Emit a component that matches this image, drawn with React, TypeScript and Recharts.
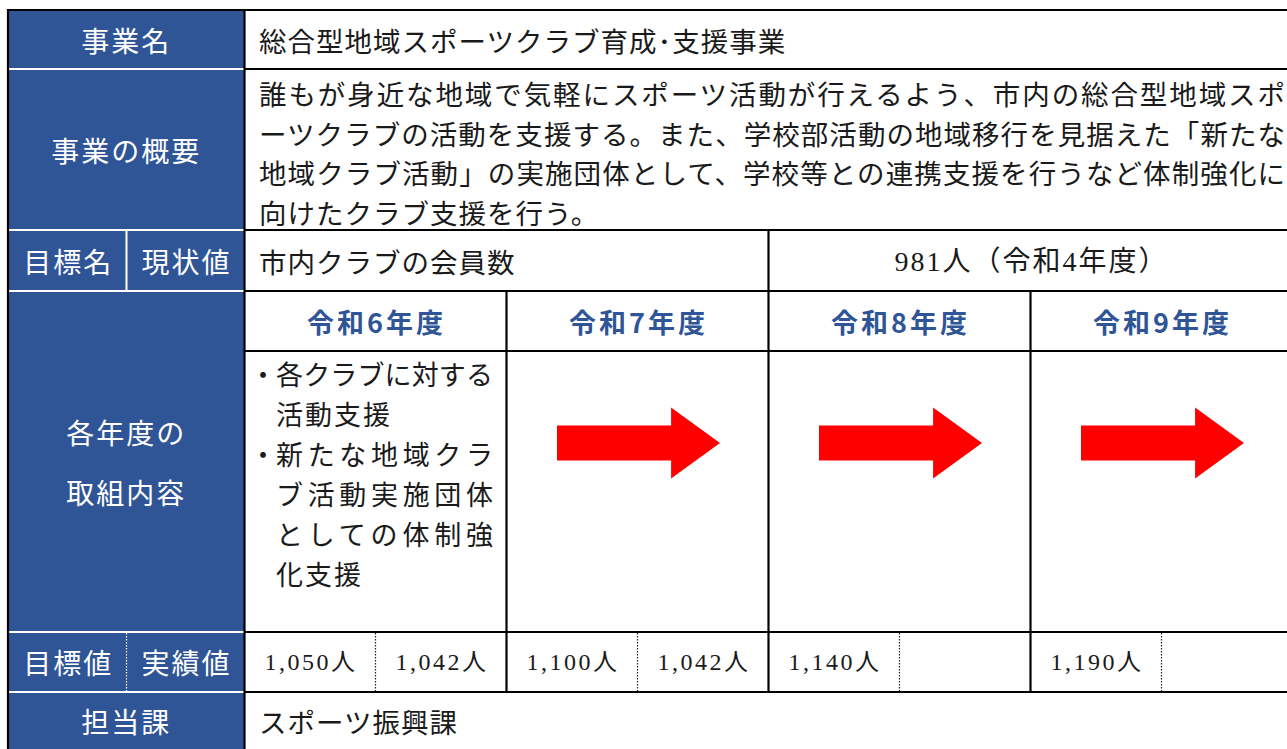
import React from 'react';
import { BarChart, Bar, XAxis, YAxis } from 'recharts';

// ---- data ----
const headerLabels = ['事業名', '事業の概要', '目標名', '現状値', '各年度の', '取組内容', '目標値', '実績値', '担当課'];
const projectName = '総合型地域スポーツクラブ育成･支援事業';
const summaryLines = [
  '誰もが身近な地域で気軽にスポーツ活動が行えるよう、市内の総合型地域スポ',
  'ーツクラブの活動を支援する。また、学校部活動の地域移行を見据えた「新たな',
  '地域クラブ活動」の実施団体として、学校等との連携支援を行うなど体制強化に',
  '向けたクラブ支援を行う。',
];
const targetName = '市内クラブの会員数';
const currentValue = '981人（令和4年度）';
const years = ['令和6年度', '令和7年度', '令和8年度', '令和9年度'];
const firstYearItems = [
  { bullet: true, text: '各クラブに対する', justify: true },
  { bullet: false, text: '活動支援', justify: false },
  { bullet: true, text: '新たな地域クラ', justify: true },
  { bullet: false, text: 'ブ活動実施団体', justify: true },
  { bullet: false, text: 'としての体制強', justify: true },
  { bullet: false, text: '化支援', justify: false },
];
const targetValues = ['1,050人', '1,100人', '1,140人', '1,190人'];
const actualValues = ['1,042人', '1,042人', '', ''];
const arrowMarks = [0, 1, 1, 1];
const department = 'スポーツ振興課';

const arrowData = years.map((y, i) => ({ year: y, arrow: arrowMarks[i] }));

// ---- style ----
const BLUE = '#2F5597';
const JP = '"Noto Sans CJK JP", "Noto Sans", sans-serif';
const SERIF = '"Liberation Serif", "Noto Sans CJK JP", serif';
const TXT = '#1a1a1a';

const W = 1287;
const H = 749;
const X0 = 8;
const XD = 244.5; // blue/data split
const COL = 262;
const colX = (i: number) => XD + i * COL;
const ROWS = [10, 69, 230, 291, 351, 632, 692];

const ArrowShape = (props: any) => {
  const { x, y, width, height, payload } = props;
  if (!payload || !payload.arrow || !height) return null;
  const cy = y + height * 0.325;
  const se = x + width * 0.7;
  const sh = 17.5;
  const hh = 35.5;
  const d = `M${x},${cy - sh} L${se},${cy - sh} L${se},${cy - hh} L${x + width},${cy} L${se},${cy + hh} L${se},${cy + sh} L${x},${cy + sh} Z`;
  return <path d={d} fill="#FF0000" />;
};

const Label = ({ x, y, children }: any) => (
  <text x={x} y={y} textAnchor="middle" dominantBaseline="central" fill="#fff" fontFamily={JP} fontSize={28} letterSpacing={2}>
    {children}
  </text>
);

export default function App() {
  const blueCenter = (X0 + XD) / 2;
  const splitX = 126.5;
  return (
    <div style={{ position: 'relative', width: W, height: H, overflow: 'hidden', background: '#fff' }}>
      <style>{`html,body{margin:0;padding:0;overflow:hidden;background:#fff}`}</style>
      <svg width={W} height={H} style={{ position: 'absolute', left: 0, top: 0 }}>
        {/* blue header column */}
        <rect x={X0} y={10} width={XD - X0} height={H - 10} fill={BLUE} />
        {/* white separators in blue column */}
        {[69, 230, 291, 632, 692].map((y) => (
          <line key={'w' + y} x1={X0 + 1} x2={XD} y1={y} y2={y} stroke="#fff" strokeWidth={2} />
        ))}
        <line x1={splitX} x2={splitX} y1={230} y2={291} stroke="#fff" strokeWidth={2} />
        <line x1={splitX} x2={splitX} y1={633} y2={691} stroke="#fff" strokeWidth={1.2} strokeDasharray="1.5 1.5" />

        {/* black borders */}
        <line x1={X0 - 1} x2={W} y1={10} y2={10} stroke="#000" strokeWidth={2.2} />
        {ROWS.slice(1).map((y) => (
          <line key={'b' + y} x1={XD} x2={W} y1={y} y2={y} stroke="#000" strokeWidth={2.2} />
        ))}
        <line x1={X0} x2={X0} y1={9} y2={H} stroke="#000" strokeWidth={2.2} />
        <line x1={XD} x2={XD} y1={9} y2={H} stroke="#000" strokeWidth={2.2} />
        <line x1={colX(2)} x2={colX(2)} y1={230} y2={692} stroke="#000" strokeWidth={2.2} />
        <line x1={colX(1)} x2={colX(1)} y1={291} y2={692} stroke="#000" strokeWidth={2.2} />
        <line x1={colX(3)} x2={colX(3)} y1={291} y2={692} stroke="#000" strokeWidth={2.2} />
        {[0, 1, 2, 3].map((i) => (
          <line key={'d' + i} x1={colX(i) + COL / 2} x2={colX(i) + COL / 2} y1={633} y2={691} stroke="#222" strokeWidth={1.2} strokeDasharray="1.5 1.5" />
        ))}

        {/* header labels */}
        <Label x={blueCenter} y={40}>{headerLabels[0]}</Label>
        <Label x={blueCenter} y={150}>{headerLabels[1]}</Label>
        <Label x={(X0 + splitX) / 2 + 1} y={261}>{headerLabels[2]}</Label>
        <Label x={(splitX + XD) / 2 + 1} y={261}>{headerLabels[3]}</Label>
        <Label x={blueCenter} y={432}>{headerLabels[4]}</Label>
        <Label x={blueCenter} y={492}>{headerLabels[5]}</Label>
        <Label x={(X0 + splitX) / 2 + 1} y={662}>{headerLabels[6]}</Label>
        <Label x={(splitX + XD) / 2 + 1} y={662}>{headerLabels[7]}</Label>
        <Label x={blueCenter} y={721}>{headerLabels[8]}</Label>

        {/* project name */}
        <text x={259} y={40} dominantBaseline="central" fill={TXT} fontFamily={JP} fontSize={27.5} letterSpacing={1}>
          {projectName}
        </text>

        {/* summary */}
        {summaryLines.map((s, i) => (
          <text
            key={'s' + i}
            x={259}
            y={93 + i * 39.7}
            dominantBaseline="central"
            fill={TXT}
            fontFamily={JP}
            fontSize={27.5}
            letterSpacing={i === summaryLines.length - 1 ? 1 : 0}
            {...(i < summaryLines.length - 1 ? { textLength: 1026, lengthAdjust: 'spacing' } : {})}
          >
            {s}
          </text>
        ))}

        {/* target name & current */}
        <text x={259} y={261} dominantBaseline="central" fill={TXT} fontFamily={JP} fontSize={27.5} letterSpacing={1}>
          {targetName}
        </text>
        <text x={colX(2) + COL + 1} y={261} textAnchor="middle" dominantBaseline="central" fill={TXT} fontFamily={SERIF} fontSize={28} letterSpacing={2}>
          {currentValue}
        </text>

        {/* year headers */}
        {years.map((y, i) => (
          <text key={'y' + i} x={colX(i) + COL / 2 + 1} y={321} textAnchor="middle" dominantBaseline="central" fill={BLUE} fontFamily={JP} fontWeight={700} fontSize={27} letterSpacing={3}>
            {y}
          </text>
        ))}

        {/* first-year items */}
        {firstYearItems.map((it, i) => {
          const cy = 373 + i * 40;
          return (
            <g key={'f' + i}>
              {it.bullet && (
                <text x={263} y={cy} textAnchor="middle" dominantBaseline="central" fill={TXT} fontFamily={JP} fontSize={27}>
                  ・
                </text>
              )}
              <text
                x={276}
                y={cy}
                dominantBaseline="central"
                fill={TXT}
                fontFamily={JP}
                fontSize={27}
                letterSpacing={it.justify ? 0 : 2}
                {...(it.justify ? { textLength: 217, lengthAdjust: 'spacing' } : {})}
              >
                {it.text}
              </text>
            </g>
          );
        })}

        {/* values */}
        {years.map((_, i) => (
          <g key={'v' + i}>
            <text x={colX(i) + COL / 4 + 1} y={662} textAnchor="middle" dominantBaseline="central" fill={TXT} fontFamily={SERIF} fontSize={24} letterSpacing={2.5}>
              {targetValues[i]}
            </text>
            {actualValues[i] && (
              <text x={colX(i) + (3 * COL) / 4 + 1} y={662} textAnchor="middle" dominantBaseline="central" fill={TXT} fontFamily={SERIF} fontSize={24} letterSpacing={2.5}>
                {actualValues[i]}
              </text>
            )}
          </g>
        ))}

        {/* department */}
        <text x={259} y={721} dominantBaseline="central" fill={TXT} fontFamily={JP} fontSize={27.5} letterSpacing={1}>
          {department}
        </text>
      </svg>

      {/* arrows drawn by recharts */}
      <div style={{ position: 'absolute', left: XD, top: 352 }}>
        <BarChart width={COL * 4} height={280} data={arrowData} margin={{ top: 0, right: 0, bottom: 0, left: 0 }}>
          <XAxis dataKey="year" hide />
          <YAxis hide domain={[0, 1]} />
          <Bar dataKey="arrow" barSize={163} shape={ArrowShape} isAnimationActive={false} />
        </BarChart>
      </div>
    </div>
  );
}
